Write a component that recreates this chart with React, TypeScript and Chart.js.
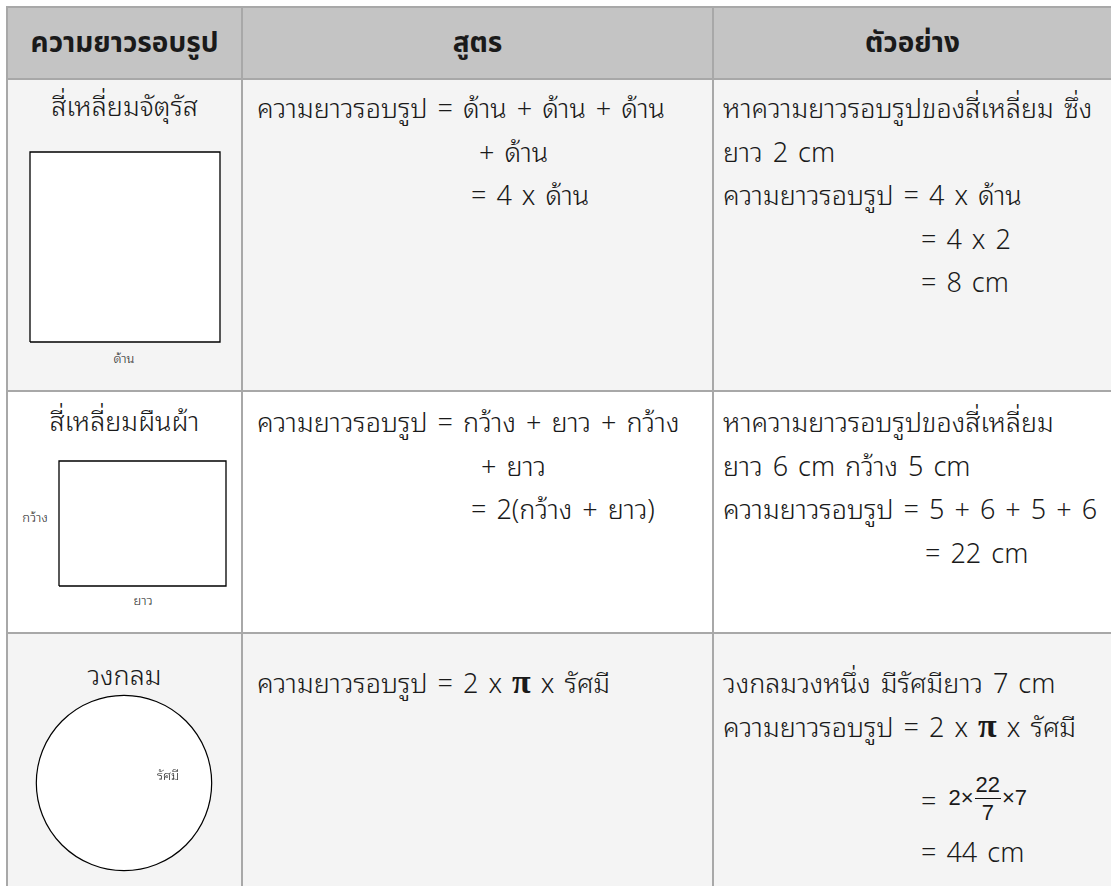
import React, { useEffect, useRef } from "react";
import { Chart, registerables } from "chart.js";

Chart.register(...registerables);

// ---------- data ----------
const headers = ["ความยาวรอบรูป", "สูตร", "ตัวอย่าง"];
const shapeNames = ["สี่เหลี่ยมจัตุรัส", "สี่เหลี่ยมผืนผ้า", "วงกลม"];
const shapeLabels = ["ด้าน", "กว้าง", "ยาว", "รัศมี"];

const squareSide = 2;
const rectLength = 6;
const rectWidth = 5;
const circleRadius = 7;

const formulaSquare = ["ความยาวรอบรูป = ด้าน + ด้าน + ด้าน", "+ ด้าน", "= 4 x ด้าน"];
const exampleSquare = [
  "หาความยาวรอบรูปของสี่เหลี่ยม ซึ่ง",
  "ยาว 2 cm",
  "ความยาวรอบรูป = 4 x ด้าน",
  "= 4 x 2",
  "= 8 cm",
];
const formulaRect = ["ความยาวรอบรูป = กว้าง + ยาว + กว้าง", "+ ยาว", "= 2(กว้าง + ยาว)"];
const exampleRect = [
  "หาความยาวรอบรูปของสี่เหลี่ยม",
  "ยาว 6 cm กว้าง 5 cm",
  "ความยาวรอบรูป = 5 + 6 + 5 + 6",
  "= 22 cm",
];
const formulaCircle = ["ความยาวรอบรูป = 2 x ", "π", " x รัศมี"];
const exampleCircle = ["วงกลมวงหนึ่ง มีรัศมียาว 7 cm", "= 44 cm"];
const fractionParts = ["=", "2×", "22", "7", "×7"];

// ---------- styles ----------
const FONT = "'Noto Sans Thai Looped','Noto Sans Thai','Noto Sans','DejaVu Sans',sans-serif";
const HEAD_FONT = "'Noto Sans Thai','Noto Sans','DejaVu Sans',sans-serif";
const BORDER = "#a8a8a8";
const HEAD_BG = "#c4c4c4";
const ODD_BG = "#f4f4f4";

const whitePlot = {
  id: "whitePlot",
  beforeDatasetsDraw(chart: any) {
    const a = chart.chartArea;
    const ctx = chart.ctx;
    ctx.save();
    ctx.fillStyle = "#ffffff";
    ctx.fillRect(a.left, a.top, a.right - a.left, a.bottom - a.top);
    ctx.restore();
  },
};

function hiddenScale(min: number, max: number) {
  return { type: "linear", min, max, display: false };
}

function PolyChart({ w, h, pts, xMax, yMax }: { w: number; h: number; pts: { x: number; y: number }[]; xMax: number; yMax: number }) {
  const ref = useRef<HTMLCanvasElement>(null);
  useEffect(() => {
    const chart = new Chart(ref.current as HTMLCanvasElement, {
      type: "scatter",
      data: {
        datasets: [
          {
            data: pts,
            showLine: true,
            borderColor: "#000",
            borderWidth: 1.3,
            pointRadius: 0,
            tension: 0,
            clip: false,
          } as any,
        ],
      },
      options: {
        animation: false,
        responsive: false,
        layout: { padding: 1 },
        plugins: { legend: { display: false }, tooltip: { enabled: false } },
        scales: { x: hiddenScale(0, xMax) as any, y: hiddenScale(0, yMax) as any },
      },
      plugins: [whitePlot],
    });
    return () => chart.destroy();
  }, []);
  return <canvas ref={ref} width={w} height={h} style={{ width: w, height: h, display: "block" }} />;
}

function CircleChart({ size }: { size: number }) {
  const ref = useRef<HTMLCanvasElement>(null);
  useEffect(() => {
    const r = circleRadius;
    const pad = r * 1.015;
    const chart = new Chart(ref.current as HTMLCanvasElement, {
      type: "scatter",
      data: {
        datasets: [
          {
            data: [{ x: 0, y: 0 }],
            pointStyle: "circle",
            backgroundColor: "#fff",
            borderColor: "#000",
            borderWidth: 1.2,
            pointRadius: (c: any) => {
              const xs = c.chart.scales.x;
              return xs.getPixelForValue(r) - xs.getPixelForValue(0);
            },
            clip: false,
          } as any,
          {
            data: [
              { x: 0, y: 0 },
              { x: r, y: 0 },
            ],
            showLine: true,
            borderColor: "#333",
            borderWidth: 1,
            borderDash: [4, 3],
            pointRadius: 0,
            clip: false,
          } as any,
        ],
      },
      options: {
        animation: false,
        responsive: false,
        layout: { padding: 0 },
        plugins: { legend: { display: false }, tooltip: { enabled: false } },
        scales: { x: hiddenScale(-pad, pad) as any, y: hiddenScale(-pad, pad) as any },
      },
    });
    return () => chart.destroy();
  }, []);
  return <canvas ref={ref} width={size} height={size} style={{ width: size, height: size, display: "block" }} />;
}

const small: React.CSSProperties = { position: "absolute", fontSize: 13, fontFamily: FONT, fontWeight: 300, color: "#222", whiteSpace: "nowrap", transform: "translate(-50%,-50%)", lineHeight: 1 };

function Line({ text, indent = 0, children }: { text?: string; indent?: number; children?: any }) {
  return (
    <div style={{ paddingLeft: indent, height: 43.5, lineHeight: "43.5px", whiteSpace: "pre" }}>
      {text}
      {children}
    </div>
  );
}

const Pi = () => (
  <span style={{ fontFamily: "'Liberation Serif','DejaVu Serif',serif", fontWeight: "bold", fontSize: 34, lineHeight: "20px" }}>π</span>
);

export default function App() {
  const sqPts = [
    { x: 0, y: 0 },
    { x: squareSide, y: 0 },
    { x: squareSide, y: squareSide },
    { x: 0, y: squareSide },
    { x: 0, y: 0 },
  ];
  const rectPts = [
    { x: 0, y: 0 },
    { x: rectLength, y: 0 },
    { x: rectLength, y: rectWidth },
    { x: 0, y: rectWidth },
    { x: 0, y: 0 },
  ];

  const cell = (bg: string, extra: React.CSSProperties = {}): React.CSSProperties => ({
    background: bg,
    position: "relative",
    overflow: "hidden",
    ...extra,
  });

  const fr: React.CSSProperties = { fontFamily: "'Liberation Sans',Arial,sans-serif", fontSize: 22, fontWeight: 400 };

  return (
    <div style={{ position: "fixed", left: 0, top: 0, width: 1111, height: 886, overflow: "hidden", background: "#fff" }}>
      <div
        style={{
          position: "absolute",
          left: 6,
          top: 6,
          width: 1108,
          display: "grid",
          gridTemplateColumns: "233px 469px 397px",
          gridTemplateRows: "70px 310px 240px 300px",
          gap: 2,
          padding: 2,
          background: BORDER,
          fontFamily: FONT,
          fontSize: 27,
          fontWeight: 300,
          wordSpacing: 3,
          color: "#1a1a1a",
        }}
      >
        {headers.map((h) => (
          <div
            key={h}
            style={cell(HEAD_BG, {
              display: "flex",
              alignItems: "center",
              justifyContent: "center",
              fontFamily: HEAD_FONT,
              fontWeight: "bold",
              fontSize: 28,
              wordSpacing: 0,
            })}
          >
            {h}
          </div>
        ))}

        {/* Row 1: square */}
        <div style={cell(ODD_BG)}>
          <div style={{ position: "absolute", left: 0, right: 0, top: 2, textAlign: "center", lineHeight: "43.5px" }}>{shapeNames[0]}</div>
          <div style={{ position: "absolute", left: 21, top: 71 }}>
            <PolyChart w={192} h={192} pts={sqPts} xMax={squareSide} yMax={squareSide} />
          </div>
          <div style={{ ...small, left: 116, top: 277 }}>{shapeLabels[0]}</div>
        </div>
        <div style={cell(ODD_BG, { paddingLeft: 14, paddingTop: 4 })}>
          <Line text={formulaSquare[0]} />
          <Line text={formulaSquare[1]} indent={222} />
          <Line text={formulaSquare[2]} indent={214} />
        </div>
        <div style={cell(ODD_BG, { paddingLeft: 9, paddingTop: 4 })}>
          <Line text={exampleSquare[0]} />
          <Line text={exampleSquare[1]} />
          <Line text={exampleSquare[2]} />
          <Line text={exampleSquare[3]} indent={198} />
          <Line text={exampleSquare[4]} indent={198} />
        </div>

        {/* Row 2: rectangle */}
        <div style={cell("#fff")}>
          <div style={{ position: "absolute", left: 0, right: 0, top: 5, textAlign: "center", lineHeight: "43.5px" }}>{shapeNames[1]}</div>
          <div style={{ position: "absolute", left: 50, top: 68 }}>
            <PolyChart w={169} h={127} pts={rectPts} xMax={rectLength} yMax={rectWidth} />
          </div>
          <div style={{ ...small, left: 27, top: 124 }}>{shapeLabels[1]}</div>
          <div style={{ ...small, left: 135, top: 207 }}>{shapeLabels[2]}</div>
        </div>
        <div style={cell("#fff", { paddingLeft: 14, paddingTop: 6 })}>
          <Line text={formulaRect[0]} />
          <Line text={formulaRect[1]} indent={224} />
          <Line text={formulaRect[2]} indent={214} />
        </div>
        <div style={cell("#fff", { paddingLeft: 9, paddingTop: 6 })}>
          <Line text={exampleRect[0]} />
          <Line text={exampleRect[1]} />
          <Line text={exampleRect[2]} />
          <Line text={exampleRect[3]} indent={202} />
        </div>

        {/* Row 3: circle */}
        <div style={cell(ODD_BG)}>
          <div style={{ position: "absolute", left: 0, right: 0, top: 17, textAlign: "center", lineHeight: "43.5px" }}>{shapeNames[2]}</div>
          <div style={{ position: "absolute", left: 27, top: 60 }}>
            <CircleChart size={178} />
          </div>
          <div style={{ ...small, left: 160, top: 140 }}>{shapeLabels[3]}</div>
        </div>
        <div style={cell(ODD_BG, { paddingLeft: 14, paddingTop: 25 })}>
          <Line>
            {formulaCircle[0]}
            <Pi />
            {formulaCircle[2]}
          </Line>
        </div>
        <div style={cell(ODD_BG, { paddingLeft: 9, paddingTop: 25 })}>
          <Line text={exampleCircle[0]} />
          <Line>
            {formulaCircle[0]}
            <Pi />
            {formulaCircle[2]}
          </Line>
          <div style={{ paddingLeft: 198, marginTop: 18, height: 68, display: "flex", alignItems: "center", whiteSpace: "pre" }}>
            <span style={{ marginRight: 12 }}>{fractionParts[0]}</span>
            <span style={fr}>{fractionParts[1]}</span>
            <span style={{ display: "inline-flex", flexDirection: "column", alignItems: "center", ...fr, lineHeight: "27px", margin: "0 1px" }}>
              <span style={{ borderBottom: "1.5px solid #111", padding: "0 1px" }}>{fractionParts[2]}</span>
              <span>{fractionParts[3]}</span>
            </span>
            <span style={fr}>{fractionParts[4]}</span>
          </div>
          <div style={{ paddingLeft: 198, lineHeight: "36px", whiteSpace: "pre" }}>{exampleCircle[1]}</div>
        </div>
      </div>
    </div>
  );
}
